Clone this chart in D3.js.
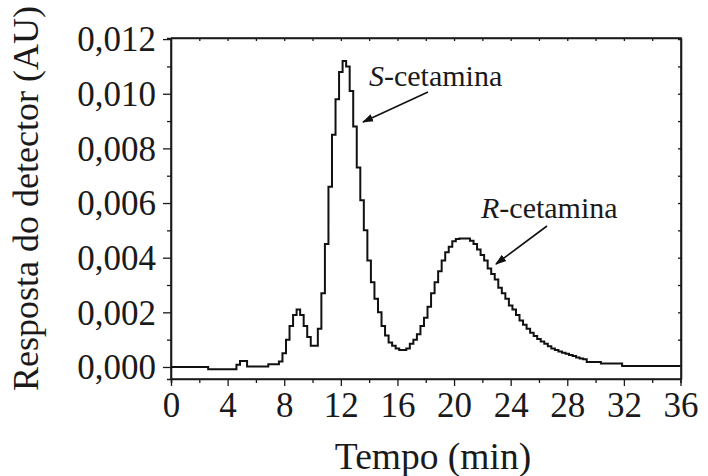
<!DOCTYPE html>
<html>
<head>
<meta charset="utf-8">
<script src="https://cdn.jsdelivr.net/npm/d3@7/dist/d3.min.js"></script>
<style>
  html, body { margin: 0; padding: 0; background: #fff; }
  svg { display: block; }
</style>
</head>
<body>
<svg id="chart" width="708" height="476"></svg>
<script>
// ---- data ----
const times = d3.range(0, 36.001, 0.25); // sampling instants, min (0.25 min step)
const response = [
  // 0 - 2.5
  0, 0, 0, 0, 0, 0, 0, 0, 0, 0, 0,
  // 2.75 - 4.5
  -0.00008, -0.00008, -0.00008, -0.00008, -0.00008, -0.00008, -0.00008, -0.00008,
  // 4.75 - 5.25
  0.00008, 0.00022, 0.00022,
  // 5.5 - 6.75
  0.00002, 0.00002, 0.00002, 0.00002, 0.00002, 0.00002,
  // 7.0 - 7.75
  0.0001, 0.0001, 0.0001, 0.0002,
  // 8.0 - 9.75
  0.0005, 0.001, 0.0015, 0.0019, 0.0021, 0.0019, 0.0015, 0.0011,
  // 10.0 - 11.75
  0.00078, 0.00078, 0.0014, 0.0027, 0.0045, 0.0066, 0.0085, 0.0098,
  // 12.0 - 13.75
  0.0108, 0.0112, 0.0110, 0.0101, 0.0088, 0.0073, 0.0061, 0.0050,
  // 14.0 - 15.75
  0.0039, 0.0031, 0.0025, 0.0020, 0.0015, 0.00115, 0.0009, 0.00078,
  // 16.0 - 17.75
  0.00068, 0.00062, 0.00062, 0.00068, 0.00085, 0.0010, 0.0012, 0.0015,
  // 18.0 - 19.75
  0.0018, 0.0022, 0.0027, 0.0031, 0.0035, 0.0039, 0.0042, 0.0044,
  // 20.0 - 21.75
  0.0046, 0.00468, 0.0047, 0.0047, 0.0047, 0.00462, 0.0045, 0.0043,
  // 22.0 - 23.75
  0.0041, 0.0039, 0.0036, 0.0034, 0.0032, 0.0029, 0.0027, 0.0025,
  // 24.0 - 25.75
  0.00225, 0.0021, 0.0019, 0.0017, 0.00155, 0.0014, 0.00125, 0.00113,
  // 26.0 - 27.75
  0.00102, 0.00093, 0.00085, 0.00076, 0.00068, 0.00062, 0.00057, 0.00052,
  // 28.0 - 29.75
  0.00048, 0.00044, 0.0004, 0.00035, 0.00031, 0.00028, 0.00018, 0.00018,
  // 30.0 - 31.75
  0.00018, 0.00018, 0.00013, 0.00013, 0.00013, 0.00013, 0.00013, 0.00013,
  // 32.0 - 36.0
  0.00004, 0.00004, 0.00004, 0.00004, 0.00004, 0.00004, 0.00004, 0.00004,
  0.00004, 0.00004, 0.00004, 0.00004, 0.00004, 0.00004, 0.00004, 0.00004, 0.00004
];
const xTicks = [0, 4, 8, 12, 16, 20, 24, 28, 32, 36];
const yTicks = [0, 0.002, 0.004, 0.006, 0.008, 0.010, 0.012];
const xTitle = "Tempo (min)";
const yTitle = "Resposta do detector (AU)";
const peakLabels = [
  { italic: "S", rest: "-cetamina" },
  { italic: "R", rest: "-cetamina" }
];

// ---- layout ----
const FONT = '"Liberation Serif", "Times New Roman", Times, serif';
const INK = "#1a1a1a";
const svg = d3.select("#chart");
const L = 171, R = 680.5, T = 38, B = 379;
const x = d3.scaleLinear().domain([0, 36]).range([L, R]);
const y = d3.scaleLinear().domain([-0.00044, 0.01204]).range([B, T]);

const fmt = v => d3.format(".3f")(v).replace(".", ",");

// frame (top/right)
svg.append("path")
  .attr("d", `M${L},${T}H${x(36)+0.5}V${B}`)
  .attr("fill", "none").attr("stroke", INK).attr("stroke-width", 1.6);

// bottom axis
const gx = svg.append("g").attr("transform", `translate(0,${B})`)
  .call(d3.axisBottom(x).tickValues(xTicks).tickSize(7).tickSizeOuter(0).tickFormat(d3.format("d")));
gx.append("g").call(d3.axisBottom(x).tickValues(d3.range(2, 36, 4)).tickSize(4).tickFormat(""));
// top mirror ticks
svg.append("g").attr("transform", `translate(0,${T})`)
  .call(d3.axisBottom(x).tickValues(d3.range(2, 36, 2)).tickSize(3).tickSizeOuter(0).tickFormat(""));

// left axis
const gy = svg.append("g").attr("transform", `translate(${L},0)`)
  .call(d3.axisLeft(y).tickValues(yTicks).tickSize(8).tickSizeOuter(0).tickFormat(fmt));
gy.append("g").call(d3.axisLeft(y).tickValues(d3.range(0.001, 0.012, 0.002)).tickSize(4).tickFormat(""));
// right mirror ticks
svg.append("g").attr("transform", `translate(${x(36)+0.5},0)`)
  .call(d3.axisLeft(y).tickValues(d3.range(0.001, 0.0125, 0.001)).tickSize(3).tickSizeOuter(0).tickFormat(""));

svg.selectAll(".domain").attr("stroke", INK).attr("stroke-width", 1.6);
svg.selectAll(".tick line").attr("stroke", INK).attr("stroke-width", 1.3);
gy.select(".domain").attr("d", `M0,${B}V${T}`);
gx.select(".domain").attr("d", `M${L},0H${x(36)+0.5}`);

gx.selectAll(".tick text")
  .attr("font-size", 35).attr("y", 13).attr("dy", "0.71em")
  .style("font-family", FONT).attr("fill", INK);
gy.selectAll(".tick text")
  .attr("font-size", 35).attr("x", -15).attr("dy", "0.34em")
  .style("font-family", FONT).attr("fill", INK);

// curve
const pts = times.map((t, i) => [t, response[i]]);
svg.append("path")
  .datum(pts)
  .attr("fill", "none").attr("stroke", "#111").attr("stroke-width", 2)
  .attr("stroke-linejoin", "miter")
  .attr("d", d3.line().x(d => x(d[0])).y(d => y(d[1])).curve(d3.curveStep));

// titles
svg.append("text").attr("x", 433).attr("y", 469).attr("text-anchor", "middle")
  .style("font-family", FONT).attr("fill", INK)
  .attr("font-size", 37.5).text(xTitle);
svg.append("text").attr("transform", "translate(38,391) rotate(-90)")
  .style("font-family", FONT).attr("fill", INK)
  .attr("text-anchor", "start").attr("font-size", 36).text(yTitle);

// annotations
svg.append("defs").append("marker").attr("id", "ah")
  .attr("viewBox", "0 0 10 10").attr("refX", 9).attr("refY", 5)
  .attr("markerWidth", 7).attr("markerHeight", 7).attr("orient", "auto")
  .attr("markerUnits", "strokeWidth")
  .append("path").attr("d", "M0,1.5L10,5L0,8.5Z").attr("fill", "#111");

const annot = [
  { lab: peakLabels[0], tx: 369, ty: 86, ax1: 428, ay1: 92, ax2: 363, ay2: 122 },
  { lab: peakLabels[1], tx: 481, ty: 218, ax1: 547, ay1: 226, ax2: 496, ay2: 264 }
];
annot.forEach(a => {
  const t = svg.append("text").attr("x", a.tx).attr("y", a.ty)
    .style("font-family", FONT).attr("fill", INK).attr("font-size", 30);
  t.append("tspan").attr("font-style", "italic").text(a.lab.italic);
  t.append("tspan").text(a.lab.rest);
  svg.append("line").attr("x1", a.ax1).attr("y1", a.ay1).attr("x2", a.ax2).attr("y2", a.ay2)
    .attr("stroke", "#111").attr("stroke-width", 1.6).attr("marker-end", "url(#ah)");
});
</script>
</body>
</html>
